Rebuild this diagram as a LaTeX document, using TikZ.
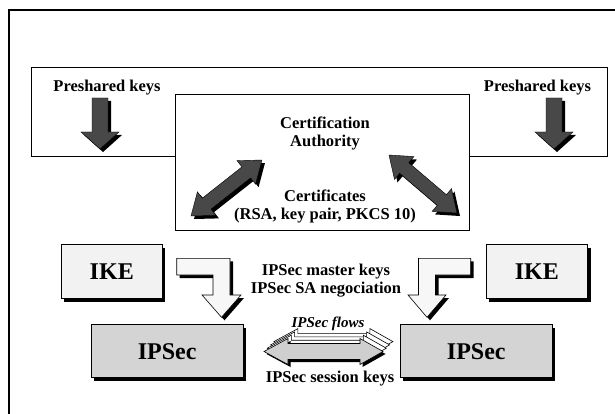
\documentclass[tikz,border=0pt]{standalone}
\usepackage{fontspec}
\setmainfont{Liberation Serif}
\usetikzlibrary{shadows}
\definecolor{darkarrow}{HTML}{484848}
\definecolor{ikefill}{HTML}{F2F2F2}
\definecolor{ipsecfill}{HTML}{D4D4D4}
\definecolor{lfill}{HTML}{F7F7F7}
\definecolor{flowfill}{HTML}{CFCFCF}
\tikzset{
  lbl/.style={font=\bfseries\fontsize{16.5}{18.7}\selectfont, align=center, inner sep=0pt},
  big/.style={font=\bfseries\fontsize{24}{28}\selectfont},
  shad/.style={drop shadow={shadow xshift=3pt, shadow yshift=-3pt, fill=black, opacity=1}},
  plainbox/.style={draw=black, line width=0.8pt, fill=white, inner sep=0pt, anchor=north west},
  shbox/.style={draw=black, line width=0.8pt, inner sep=0pt, anchor=north west, shad, big},
  darr/.style={fill=darkarrow, draw=black, line width=0.4pt, shad},
  larr/.style={fill=lfill, draw=black, line width=0.6pt, shad},
  backflow/.style={fill=white, draw=black, line width=0.6pt},
  frontflow/.style={fill=flowfill, draw=black, line width=0.6pt,
    drop shadow={shadow xshift=2.5pt, shadow yshift=-2.5pt, fill=black, opacity=1}}
}
\begin{document}
\begin{tikzpicture}[x=1pt,y=-1pt]
\useasboundingbox (0,0) rectangle (615,414);
% frame
\draw[line width=2pt] (8.6,414) -- (8.6,10) -- (615,10);
% boxes
\node[plainbox, minimum width=576.3pt, minimum height=89.8pt] (pre) at (30.7,66.7) {};
\node[plainbox, minimum width=294.3pt, minimum height=136pt] (ca) at (175,94) {};
% preshared keys
\node[lbl] (pkl) at (107,88) {Preshared keys};
\node[lbl] (pkr) at (537.5,88) {Preshared keys};
\begin{scope}[shift={(100,0)}]
  \path[darr] (-8,98) -- (8,98) -- (8,132) -- (19,132) -- (0,149) -- (-19,132) -- (-8,132) -- cycle;
\end{scope}
\begin{scope}[shift={(554,0)}]
  \path[darr] (-8,98) -- (8,98) -- (8,132) -- (19,132) -- (0,149) -- (-19,132) -- (-8,132) -- cycle;
\end{scope}
% CA texts
\node[lbl] (cat) at (325,133.5) {Certification\\Authority};
\node[lbl] (cert) at (325,206.5) {Certificates\\(RSA, key pair, PKCS 10)};
% diagonal double arrows
\begin{scope}[shift={(191,216)}, rotate=38.26]
  \path[darr] (0,0) -- (20,15) -- (20,7) -- (70.4,7) -- (70.4,15) -- (90.4,0) -- (70.4,-15) -- (70.4,-7) -- (20,-7) -- (20,-15) -- cycle;
\end{scope}
\begin{scope}[shift={(389,155)}, rotate=-40.47]
  \path[darr] (0,0) -- (20,15) -- (20,7) -- (69.4,7) -- (69.4,15) -- (89.4,0) -- (69.4,-15) -- (69.4,-7) -- (20,-7) -- (20,-15) -- cycle;
\end{scope}
% IKE boxes
\node[shbox, fill=ikefill, minimum width=100.7pt, minimum height=54pt] (ike1) at (61,244.3) {IKE};
\node[shbox, fill=ikefill, minimum width=101.6pt, minimum height=54pt] (ike2) at (485.7,244.3) {IKE};
% IPSec boxes
\node[shbox, fill=ipsecfill, minimum width=152pt, minimum height=53pt] (ips1) at (90.7,324.3) {IPSec};
\node[shbox, fill=ipsecfill, minimum width=151.7pt, minimum height=53pt] (ips2) at (400,324.3) {IPSec};
% L-shaped arrows
\path[larr] (176.7,258.3) -- (230,258.3) -- (230,295) -- (241,295) -- (221.5,317.3) -- (202,295) -- (213,295) -- (213,275) -- (176.7,275) -- cycle;
\path[larr] (470.7,258.3) -- (418.5,258.3) -- (418.5,295) -- (408,295) -- (427,317.3) -- (446,295) -- (435.5,295) -- (435.5,275) -- (470.7,275) -- cycle;
\node[lbl] (mk) at (326,280.5) {IPSec master keys\\IPSec SA negociation};
% IPSec flows
\foreach \k in {3,2,1} {
  \begin{scope}[shift={({3.3*\k},{-3.3*\k})}]
    \path[backflow] (264,351.5) -- (288,338.5) -- (288,343.5) -- (360,343.5) -- (360,338.5) -- (383,351.5) -- (360,364.5) -- (360,359.5) -- (288,359.5) -- (288,364.5) -- cycle;
  \end{scope}
}
\path[frontflow] (264,351.5) -- (288,338.5) -- (288,343.5) -- (360,343.5) -- (360,338.5) -- (383,351.5) -- (360,364.5) -- (360,359.5) -- (288,359.5) -- (288,364.5) -- cycle;
\node[font=\bfseries\itshape\fontsize{15}{18}\selectfont, inner sep=0pt] (fl) at (328,324) {IPSec flows};
\node[lbl] (sk) at (330,379) {IPSec session keys};
\end{tikzpicture}
\end{document}
